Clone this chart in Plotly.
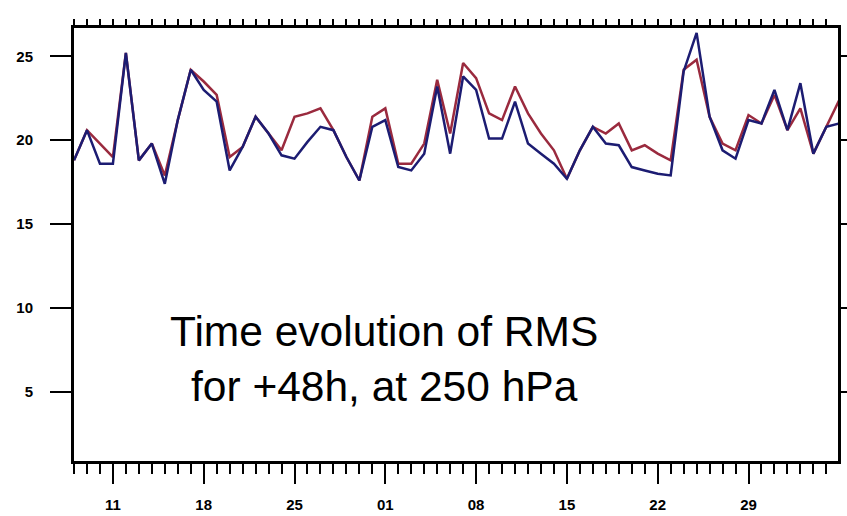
import pandas as pd
import plotly.graph_objects as go

start = "2003-07-08"
red_vals = [18.8, 20.6, 19.8, 19.0, 25.2, 18.8, 19.8, 17.9, 21.2, 24.2,
            23.5, 22.7, 19.0, 19.6, 21.4, 20.4, 19.4, 21.4, 21.6, 21.9,
            20.6, 19.0, 17.6, 21.4, 21.9, 18.6, 18.6, 19.8, 23.6, 20.4,
            24.6, 23.7, 21.6, 21.2, 23.2, 21.6, 20.4, 19.4, 17.7, 19.4,
            20.8, 20.4, 21.0, 19.4, 19.7, 19.2, 18.8, 24.2, 24.8, 21.4,
            19.8, 19.4, 21.5, 21.0, 22.7, 20.6, 21.9, 19.2, 20.8, 22.4]
blue_vals = [18.8, 20.6, 18.6, 18.6, 25.2, 18.8, 19.8, 17.4, 21.2, 24.2,
             23.0, 22.3, 18.2, 19.6, 21.4, 20.4, 19.1, 18.9, 19.9, 20.8,
             20.6, 19.0, 17.6, 20.8, 21.2, 18.4, 18.2, 19.2, 23.2, 19.2,
             23.8, 23.0, 20.1, 20.1, 22.3, 19.8, 19.2, 18.6, 17.7, 19.4,
             20.8, 19.8, 19.7, 18.4, 18.2, 18.0, 17.9, 24.1, 26.4, 21.4,
             19.4, 18.9, 21.2, 21.0, 23.0, 20.6, 23.4, 19.2, 20.8, 21.0]
dates = pd.date_range(start, periods=len(red_vals), freq="D")
major_ticks = ["2003-07-11", "2003-07-18", "2003-07-25", "2003-08-01",
               "2003-08-08", "2003-08-15", "2003-08-22", "2003-08-29"]
y_ticks = [5, 10, 15, 20, 25]
title_lines = ["Time evolution of RMS", "for +48h, at 250 hPa"]

x0 = pd.Timestamp(start)
x1 = x0 + pd.Timedelta(days=58.9)
xr = [x0, x1]

fig = go.Figure()
fig.add_trace(go.Scatter(x=dates, y=red_vals, mode="lines",
                         line=dict(color="#9a2a3e", width=2.5), showlegend=False))
fig.add_trace(go.Scatter(x=dates, y=blue_vals, mode="lines",
                         line=dict(color="#1c1c72", width=2.5), showlegend=False))
fig.add_trace(go.Scatter(x=dates, y=[None] * len(dates), xaxis="x2",
                         mode="lines", showlegend=False, hoverinfo="skip"))

tickfont = dict(family="Liberation Sans, Arial", size=15, color="black", weight="bold")

fig.update_layout(
    width=847, height=516,
    margin=dict(l=74, r=9, t=28, b=55, autoexpand=False),
    paper_bgcolor="white", plot_bgcolor="white",
    xaxis=dict(range=xr, type="date", tickvals=major_ticks, tickformat="%d",
               ticks="outside", ticklen=20, tickwidth=2, tickcolor="black",
               showline=True, linecolor="black", linewidth=3, mirror=True,
               showgrid=False, zeroline=False, tickfont=tickfont,
               ticklabelstandoff=8, automargin=False,
               minor=dict(ticks="outside", ticklen=10, tickwidth=2,
                          tickcolor="black", dtick=86400000, tick0=start,
                          showgrid=False)),
    xaxis2=dict(range=xr, type="date", overlaying="x", side="top",
                ticks="outside", ticklen=8, tickwidth=2, tickcolor="black",
                dtick=86400000, tick0=start, showticklabels=False,
                showline=False, showgrid=False, zeroline=False, automargin=False),
    yaxis=dict(range=[0.88, 26.69], tickvals=y_ticks, ticks="outside",
               ticklen=21, tickwidth=2, tickcolor="black",
               showline=True, linecolor="black", linewidth=3, mirror="ticks",
               showgrid=False, zeroline=False, tickfont=tickfont,
               ticklabelstandoff=14, automargin=False),
    annotations=[dict(text="<br>".join(title_lines), xref="paper", yref="paper",
                      x=0.406, y=0.236, xanchor="center", yanchor="middle",
                      showarrow=False,
                      font=dict(family="Liberation Sans, Arial", size=42.5,
                                color="black"))],
)

fig.write_html("out.html")
